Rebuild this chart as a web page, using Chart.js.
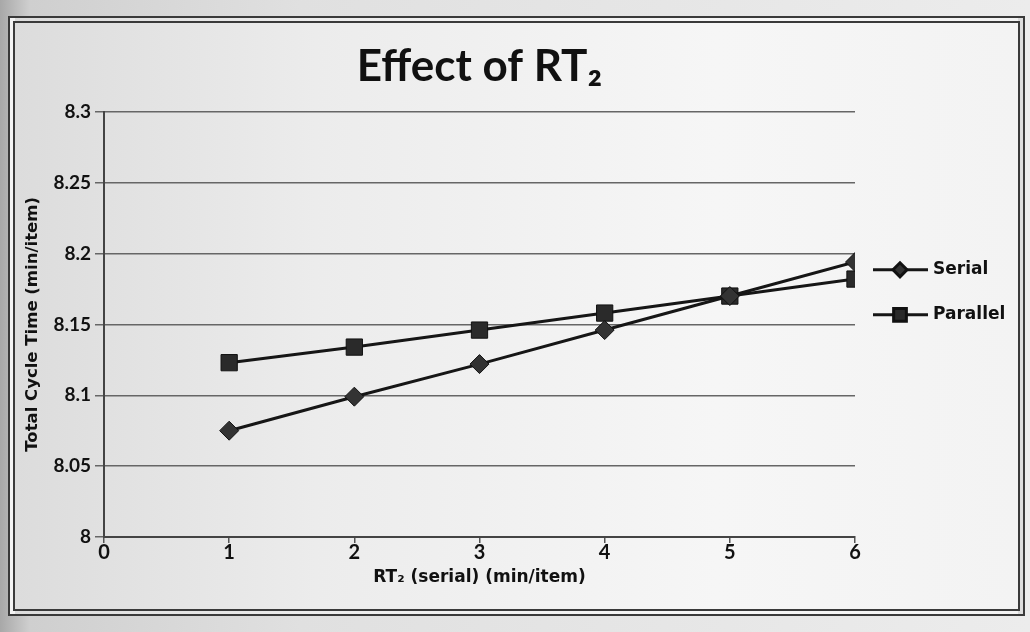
<!DOCTYPE html>
<html>
<head>
<meta charset="utf-8">
<script src="https://cdn.jsdelivr.net/npm/chart.js@4"></script>
<style>
  html, body { margin: 0; padding: 0; }
  body {
    width: 1030px; height: 632px; overflow: hidden; position: relative;
    background: linear-gradient(90deg, #a8a8a8 0px, #cfcfcf 30px, #e0e0e0 300px, #ececec 1030px);
  }
  #frame {
    position: absolute; left: 8px; top: 16px; width: 1003px; height: 586px;
    border: 7px double #3a3a3a;
    background: linear-gradient(90deg, #dcdcdc 0%, #ececec 30%, #f6f6f6 70%, #f3f3f3 100%);
  }
  #wrap { position: absolute; left: 20px; top: 30px; width: 995px; height: 575px; }
</style>
</head>
<body>
<div id="frame"></div>
<div id="wrap"><canvas id="cycleChart"></canvas></div>
<script>
const xValues = [1, 2, 3, 4, 5, 6];
const serialTimes = [8.075, 8.099, 8.122, 8.146, 8.170, 8.194];
const parallelTimes = [8.123, 8.134, 8.146, 8.158, 8.170, 8.182];
const xTicks = [0, 1, 2, 3, 4, 5, 6];
const yTicks = [8, 8.05, 8.1, 8.15, 8.2, 8.25, 8.3];
const seriesNames = ['Serial', 'Parallel'];

const toPoints = (xs, ys) => xs.map((x, i) => ({x: x, y: ys[i]}));

// Excel-style legend: a short line with the marker in the middle, then the name
const sideLegend = {
    id: 'sideLegend',
    afterDatasetsDraw(chart) {
        const ctx = chart.ctx;
        const area = chart.chartArea;
        chart.data.datasets.forEach((ds, i) => {
            const x0 = area.right + 18;
            const y = area.top + 158 + i * 45;
            ctx.save();
            ctx.strokeStyle = ds.borderColor;
            ctx.lineWidth = 3;
            ctx.beginPath();
            ctx.moveTo(x0, y);
            ctx.lineTo(x0 + 55, y);
            ctx.stroke();
            ctx.fillStyle = ds.pointBackgroundColor;
            ctx.strokeStyle = ds.pointBorderColor;
            Chart.helpers.drawPoint(ctx, {
                pointStyle: ds.pointStyle,
                radius: ds.pointStyle === 'rect' ? 9 : 7,
                rotation: 0,
                borderWidth: 1
            }, x0 + 27, y);
            ctx.fillStyle = '#111';
            ctx.font = 'bold 17px "DejaVu Sans"';
            ctx.textBaseline = 'middle';
            ctx.fillText(ds.label, x0 + 60, y);
            ctx.restore();
        });
    }
};

const ctx = document.getElementById('cycleChart').getContext('2d');

new Chart(ctx, {
    type: 'line',
    data: {
        datasets: [{
            label: seriesNames[0],
            data: toPoints(xValues, serialTimes),
            borderColor: '#161616',
            borderWidth: 3,
            pointStyle: 'rectRot',
            pointRadius: 9.5,
            pointBackgroundColor: '#333',
            pointBorderColor: '#111',
            pointBorderWidth: 1
        }, {
            label: seriesNames[1],
            data: toPoints(xValues, parallelTimes),
            borderColor: '#161616',
            borderWidth: 3,
            pointStyle: 'rect',
            pointRadius: 11.5,
            pointBackgroundColor: '#2a2a2a',
            pointBorderColor: '#111',
            pointBorderWidth: 1
        }]
    },
    options: {
        responsive: true,
        maintainAspectRatio: false,
        animation: false,
        layout: { padding: { top: 2, right: 160, left: 0, bottom: 0 } },
        plugins: {
            legend: { display: false },
            tooltip: { enabled: false },
            title: {
                display: true,
                text: 'Effect of RT₂',
                fullSize: false,
                color: '#111',
                font: { family: 'Lato', size: 44, weight: 'bold' },
                padding: { top: 8, bottom: 19 }
            }
        },
        elements: { line: { tension: 0 } },
        scales: {
            x: {
                type: 'linear',
                min: 0,
                max: 6,
                afterBuildTicks: (scale) => { scale.ticks = xTicks.map(v => ({value: v})); },
                afterFit: (scale) => { scale.height = 68; },
                ticks: {
                    color: '#111',
                    padding: -2,
                    font: { family: 'Lato', size: 20, weight: 'bold' }
                },
                grid: { drawOnChartArea: false, drawTicks: true, tickLength: 6, color: '#555', lineWidth: 1.5 },
                border: { display: true, color: '#444', width: 2 },
                title: {
                    display: true,
                    text: 'RT₂ (serial) (min/item)',
                    color: '#111',
                    font: { family: 'DejaVu Sans', size: 17, weight: 'bold' },
                    padding: { top: 0, bottom: 17 }
                }
            },
            y: {
                min: 8,
                max: 8.3,
                afterBuildTicks: (scale) => { scale.ticks = yTicks.map(v => ({value: v})); },
                afterFit: (scale) => { scale.width = 84; },
                ticks: {
                    color: '#111',
                    padding: 4,
                    font: { family: 'Lato', size: 19, weight: 'bold' },
                    callback: (v) => String(Number(v.toFixed(2)))
                },
                grid: { color: '#666', lineWidth: 1.5, tickLength: 9 },
                border: { display: true, color: '#444', width: 2 },
                title: {
                    display: true,
                    text: 'Total Cycle Time (min/item)',
                    color: '#111',
                    font: { family: 'DejaVu Sans', size: 16.5, weight: 'bold' },
                    padding: { top: 3, bottom: 0 }
                }
            }
        }
    },
    plugins: [sideLegend]
});
</script>
</body>
</html>
